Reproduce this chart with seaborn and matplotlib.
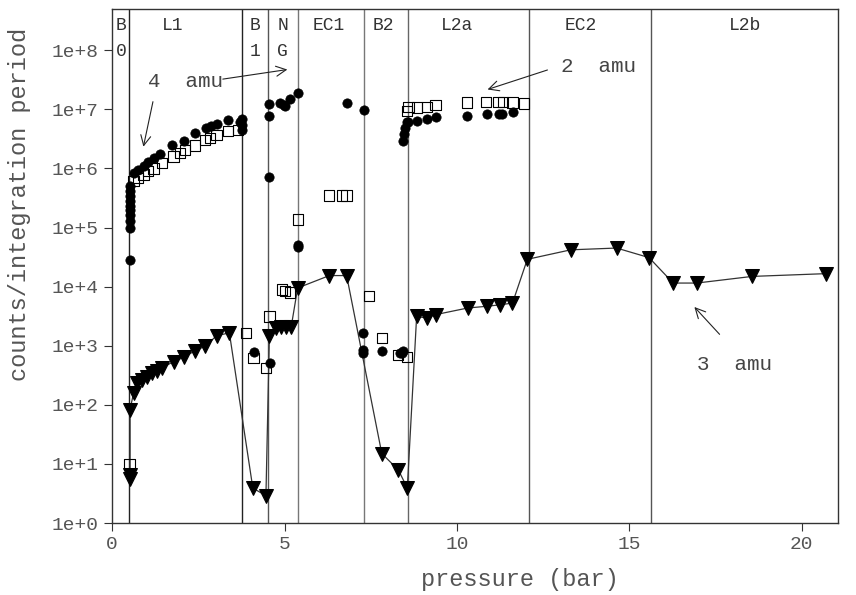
import numpy as np
import pandas as pd
import seaborn as sns
import matplotlib.pyplot as plt
from matplotlib.ticker import FixedLocator, FixedFormatter, NullLocator

# 3 amu (triangles, joined by a line, in measuring order)
tri_p = [0.52, 0.52, 0.52, 0.62, 0.72, 0.86, 1.01, 1.15, 1.30, 1.44, 1.78, 2.09,
         2.41, 2.70, 3.03, 3.40, 4.08, 4.46, 4.56, 4.75, 4.90, 5.04, 5.19, 5.38,
         6.30, 6.80, 7.82, 8.30, 8.56, 8.83, 9.12, 9.39, 10.31, 10.86, 11.25,
         11.61, 12.04, 13.30, 14.63, 15.57, 16.27, 16.95, 18.56, 20.70]
tri_c = [5.5, 6.5, 83, 158, 238, 265, 300, 345, 380, 418, 540, 640,
         830, 980, 1480, 1650, 3.9, 2.9, 1480, 2000, 2050, 2100, 2050, 9500,
         1.54e4, 1.54e4, 15, 7.9, 3.9, 3130, 2950, 3370, 4350, 4650, 4930,
         5270, 2.9e4, 4.2e4, 4.5e4, 3.1e4, 1.15e4, 1.15e4, 1.49e4, 1.66e4]

# 4 amu (filled circles)
circ_p = [0.52, 0.52, 0.52, 0.52, 0.52, 0.51, 0.52, 0.52, 0.51, 0.52,
          0.62, 0.76, 0.91, 1.05, 1.20, 1.39, 1.73, 2.09, 2.41, 2.72, 2.87,
          3.03, 3.37, 3.70, 3.76, 3.76, 3.76,
          4.10, 4.56, 4.56, 4.56, 4.58, 4.87, 4.97, 5.01, 5.16, 5.40, 5.40, 5.40,
          6.80, 7.30, 7.28, 7.28, 7.28, 7.82, 8.35, 8.40, 8.44,
          8.43, 8.46, 8.49, 8.55, 8.59, 8.85, 9.12, 9.39, 10.30, 10.86,
          11.23, 11.32, 11.63]
circ_c = [2.8e4, 9.8e4, 1.3e5, 1.66e5, 2.0e5, 2.3e5, 2.8e5, 3.4e5, 4.2e5, 5.0e5,
          8.5e5, 9.6e5, 1.1e6, 1.3e6, 1.5e6, 1.78e6, 2.45e6, 2.95e6, 4.0e6, 4.9e6, 5.2e6,
          5.7e6, 6.6e6, 6.2e6, 6.8e6, 5.5e6, 4.5e6,
          770, 1.25e7, 7.7e6, 7.2e5, 510, 1.27e7, 1.2e7, 1.15e7, 1.5e7, 1.87e7, 5.1e4, 4.7e4,
          1.26e7, 9.8e6, 1650, 850, 750, 830, 740, 750, 800,
          2.9e6, 3.8e6, 4.9e6, 6.0e6, 6.1e6, 6.3e6, 6.8e6, 7.5e6, 7.7e6, 8.5e6,
          8.5e6, 8.3e6, 9.0e6]

# 2 amu (open squares)
sq_p = [0.50,
        0.62, 0.76, 0.91, 1.05, 1.20, 1.44, 1.78, 1.97, 2.12, 2.41, 2.70, 2.84,
        3.03, 3.37, 3.66,
        3.88, 4.10, 4.46, 4.56, 4.92, 5.01, 5.16, 5.40,
        6.29, 6.66, 6.80, 7.45, 7.82, 8.28, 8.56,
        8.56, 8.59, 8.85, 9.14, 9.38, 10.30, 10.84, 11.20, 11.34, 11.61, 11.95]
sq_c = [10,
        6.1e5, 6.9e5, 7.9e5, 9.0e5, 1.0e6, 1.25e6, 1.6e6, 1.85e6, 2.05e6, 2.45e6, 3.0e6, 3.3e6,
        3.65e6, 4.3e6, 4.5e6,
        1650, 620, 420, 3130, 8900, 8500, 8000, 1.37e5,
        3.5e5, 3.5e5, 3.5e5, 7000, 1350, 700, 640,
        9.3e6, 1.1e7, 1.07e7, 1.1e7, 1.2e7, 1.3e7, 1.35e7, 1.35e7, 1.35e7, 1.3e7, 1.26e7]

# region boundaries and labels
bounds = [0.50, 3.77, 4.53, 5.40, 7.31, 8.57, 12.08, 15.62]
bound_cols = ["#222222", "#222222", "#555555", "#777777", "#777777", "#666666", "#555555", "#555555"]
reg_x = [0.25, 1.75, 4.15, 4.95, 6.29, 7.88, 10.0, 13.6, 18.35]
reg_top = ["B", "L1", "B", "N", "EC1", "B2", "L2a", "EC2", "L2b"]
reg_bot = ["0", "", "1", "G", "", "", "", "", ""]

sns.set_style("ticks")
plt.rcParams["font.family"] = ["Liberation Mono", "DejaVu Sans Mono"]
plt.rcParams["text.color"] = "#333333"

fig = plt.figure(figsize=(8.56, 5.95), dpi=100)
ax = fig.add_axes([0.131, 0.121, 0.848, 0.864])

for b, c in zip(bounds, bound_cols):
    ax.axvline(b, color=c, lw=1.0, zorder=1)

tri = pd.DataFrame({"p": tri_p, "c": tri_c})
sns.lineplot(data=tri, x="p", y="c", sort=False, estimator=None, ax=ax,
             color="#333333", lw=0.9, marker="v", markersize=10,
             markerfacecolor="black", markeredgecolor="black", zorder=3)

circ = pd.DataFrame({"p": circ_p, "c": circ_c})
sns.scatterplot(data=circ, x="p", y="c", ax=ax, marker="o", s=45,
                color="black", edgecolor="black", linewidth=0.5, zorder=4)

sq = pd.DataFrame({"p": sq_p, "c": sq_c})
sns.scatterplot(data=sq, x="p", y="c", ax=ax, marker="s", s=55,
                facecolor="none", edgecolor="black", linewidth=0.8, zorder=5)

ax.set_yscale("log")
ax.set_xlim(0, 21.05)
ax.set_ylim(1, 10 ** 8.7)
ax.yaxis.set_major_locator(FixedLocator([10.0 ** k for k in range(9)]))
ax.yaxis.set_major_formatter(FixedFormatter([f"1e+{k}" for k in range(9)]))
ax.yaxis.set_minor_locator(NullLocator())
ax.set_xticks([0, 5, 10, 15, 20])
ax.tick_params(axis="both", labelsize=14, length=6, width=0.8, color="#333333",
               labelcolor="#555555", direction="out")
for s in ax.spines.values():
    s.set_linewidth(1.0)
    s.set_color("#333333")

ax.set_xlabel("pressure (bar)", fontsize=17, color="#555555")
ax.set_ylabel("counts/integration period", fontsize=17, color="#555555")
ax.xaxis.set_label_coords(0.562, -0.088)
ax.yaxis.set_label_coords(-0.112, 0.62)

for x, t, b in zip(reg_x, reg_top, reg_bot):
    ax.text(x, 0.967, t, transform=ax.get_xaxis_transform(), ha="center", va="center",
            fontsize=13, color="#333333")
    if b:
        ax.text(x, 0.918, b, transform=ax.get_xaxis_transform(), ha="center", va="center",
                fontsize=13, color="#333333")

arrow = dict(arrowstyle="->", lw=0.8, color="#222222", mutation_scale=18)
ax.text(2.12, 3.0e7, "4  amu", fontsize=15, ha="center", va="center", color="#444444")
ax.annotate("", xy=(0.89, 2.1e6), xytext=(1.2, 1.5e7), arrowprops=arrow)
ax.annotate("", xy=(5.16, 4.8e7), xytext=(3.13, 3.2e7), arrowprops=arrow)
ax.text(14.1, 5.4e7, "2  amu", fontsize=15, ha="center", va="center", color="#444444")
ax.annotate("", xy=(10.81, 2.1e7), xytext=(12.7, 4.8e7), arrowprops=arrow)
ax.text(18.06, 475, "3  amu", fontsize=15, ha="center", va="center", color="#444444")
ax.annotate("", xy=(16.83, 4900), xytext=(17.67, 1440), arrowprops=arrow)

fig.savefig("out.png", dpi=100)
